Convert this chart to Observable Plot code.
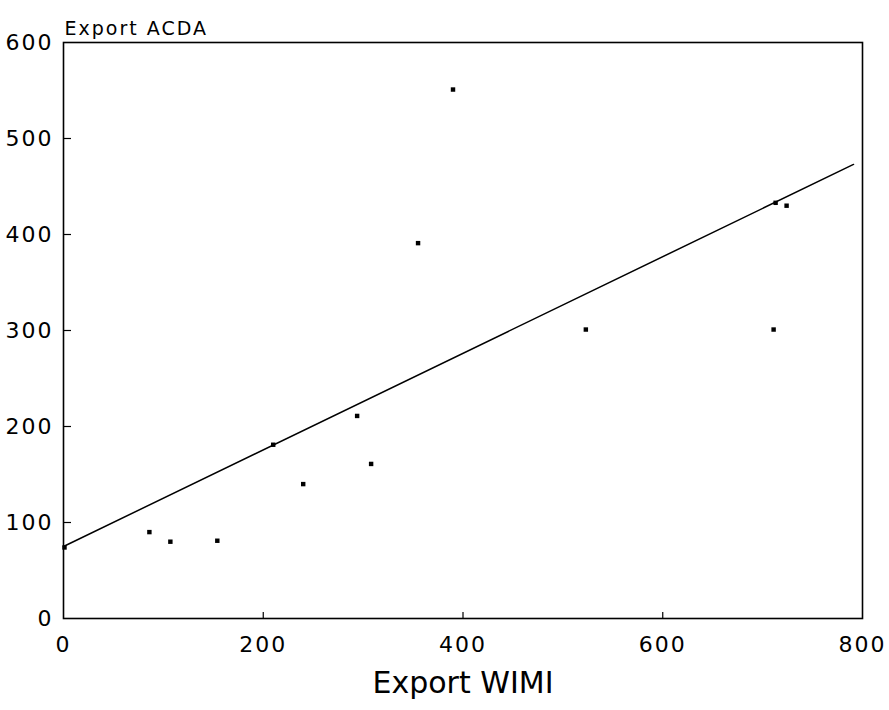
<!DOCTYPE html>
<html><head><meta charset="utf-8">
<script src="https://cdn.jsdelivr.net/npm/d3@7"></script>
<script src="https://cdn.jsdelivr.net/npm/@observablehq/plot@0.6"></script>
<style>
body{margin:0;background:#fff}
svg{font-family:"DejaVu Sans",sans-serif}
g[aria-label="y-axis tick label"] text{letter-spacing:2px}
g[aria-label="x-axis tick label"] text{letter-spacing:2px}
g.ttl text{letter-spacing:2px}
</style>
</head><body><div id="chart"></div>
<script>
// Data
const wimi = [1, 86, 107, 154, 210, 240, 294, 308, 355, 390, 523, 711, 713, 724];
const acda = [74, 90, 80, 81, 181, 140, 211, 161, 391, 551, 301, 301, 433, 430];
const fitX = [0, 791];
const fitY = [75, 473];
const xTicks = [0, 200, 400, 600, 800];
const yTicks = [0, 100, 200, 300, 400, 500, 600];
const xInner = [200, 400, 600];
const yInner = [100, 200, 300, 400, 500];
const yTitle = "Export ACDA";
const xTitle = "Export WIMI";

const pts = wimi.map((x, i) => ({x, y: acda[i]}));
const fit = fitX.map((x, i) => ({x, y: fitY[i]}));

const chart = Plot.plot({
  width: 889,
  height: 710,
  marginLeft: 63,
  marginRight: 27,
  marginTop: 42,
  marginBottom: 92,
  style: {background: "#fff", color: "#000"},
  x: {domain: [0, 800]},
  y: {domain: [0, 600]},
  marks: [
    Plot.axisY(yTicks, {tickSize: 0, tickPadding: 10, fontSize: 22, label: null}),
    Plot.axisY(yInner, {tickSize: -8, tickFormat: () => "", strokeWidth: 1.2, label: null}),
    Plot.axisX(xTicks, {tickSize: 0, tickPadding: 18, fontSize: 22, label: null}),
    Plot.axisX(xInner, {tickSize: -6, tickFormat: () => "", strokeWidth: 1.2, label: null}),
    Plot.frame({stroke: "#000", strokeWidth: 1.6}),
    Plot.line(fit, {x: "x", y: "y", stroke: "#000", strokeWidth: 1.5}),
    Plot.dot(pts, {x: "x", y: "y", r: 2.5, symbol: "square", fill: "#000", stroke: "none"}),
    Plot.text([yTitle], {frameAnchor: "top-left", dy: -21, dx: 1, textAnchor: "start", fontSize: 19, className: "ttl"}),
    Plot.text([xTitle], {frameAnchor: "bottom", dy: 74, fontSize: 30})
  ]
});
document.getElementById("chart").appendChild(chart);
</script>
</body></html>
